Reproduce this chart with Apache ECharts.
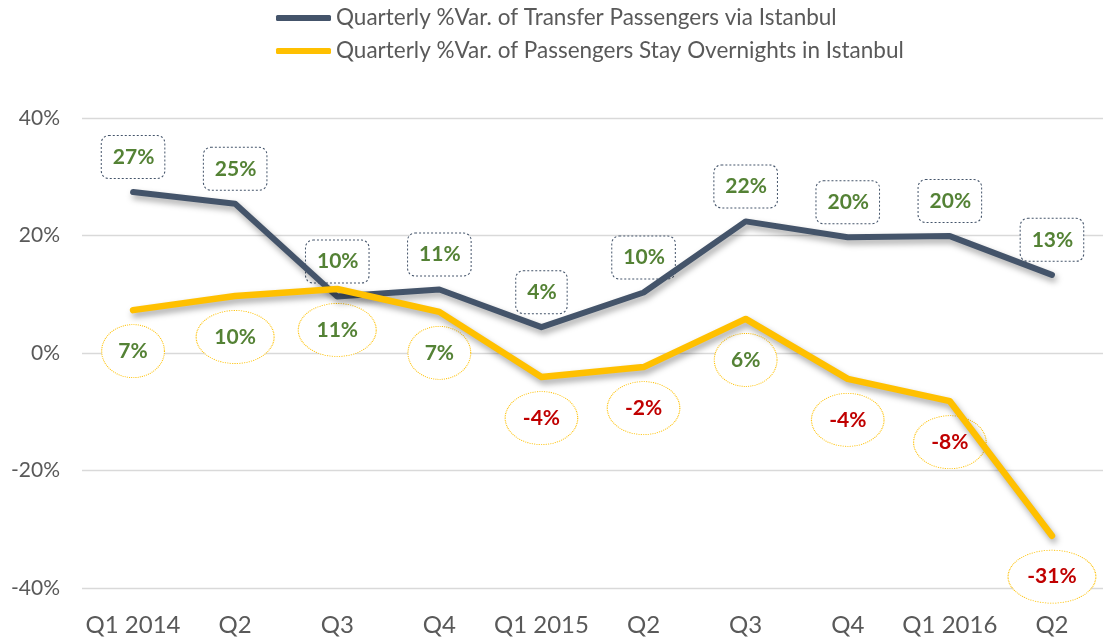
<!DOCTYPE html>
<html><head><meta charset="utf-8">
<script src="https://cdn.jsdelivr.net/npm/echarts@6/dist/echarts.min.js"></script>
<style>html,body{margin:0;padding:0;background:#fff}#c{width:1103px;height:639px}</style>
</head><body><div id="c"></div>
<script>
const categories = ['Q1 2014', 'Q2', 'Q3', 'Q4', 'Q1 2015', 'Q2', 'Q3', 'Q4', 'Q1 2016', 'Q2'];
const transfer = [27.4, 25.4, 9.6, 10.8, 4.4, 10.3, 22.4, 19.7, 19.9, 13.3];
const overnight = [7.3, 9.7, 10.9, 7.0, -4.1, -2.4, 5.8, -4.4, -8.2, -31.1];
const seriesNames = ['Quarterly %Var. of Transfer Passengers via Istanbul', 'Quarterly %Var. of Passengers Stay Overnights in Istanbul'];

const FONT = 'Lato';
const LABEL_SIZE = 21;
const ctx = document.createElement('canvas').getContext('2d');
ctx.font = 'bold ' + LABEL_SIZE + 'px ' + FONT;
const fmt = v => Math.round(v) + '%';
const tw = v => ctx.measureText(fmt(v)).width;
const labelColor = v => Math.round(v) < 0 ? '#c00000' : '#548235';

const chart = echarts.init(document.getElementById('c'), null, {renderer: 'canvas'});
chart.setOption({
  animation: false,
  backgroundColor: '#fff',
  textStyle: {fontFamily: FONT},
  legend: {
    data: seriesNames.map(n => ({name: n, icon: 'roundRect'})),
    orient: 'vertical', left: 271, top: 1, itemWidth: 55, itemHeight: 6, itemGap: 9,
    textStyle: {color: '#595959', fontSize: 22.5, fontFamily: FONT, lineHeight: 24},
    selectedMode: false
  },
  grid: {left: 82, right: -16, top: 118, bottom: 51, containLabel: false},
  xAxis: {
    type: 'category', data: categories, boundaryGap: true,
    axisLine: {show: false, onZero: false}, axisTick: {show: false},
    axisLabel: {color: '#595959', fontSize: 24, fontFamily: FONT, margin: 25, interval: 0}
  },
  yAxis: {
    type: 'value', min: -40, max: 40, interval: 20,
    axisLine: {show: false}, axisTick: {show: false},
    axisLabel: {color: '#595959', fontSize: 21, fontFamily: FONT, margin: 22, formatter: '{value}%'},
    splitLine: {lineStyle: {color: '#d9d9d9', width: 1.3}}
  },
  series: [
    {
      type: 'scatter', name: 'transferLabels', z: 1, silent: true,
      data: transfer.map(v => ({value: v, label: {color: labelColor(v)}})),
      symbol: 'circle', symbolSize: 1,
      itemStyle: {color: 'rgba(0,0,0,0)', opacity: 1},
      label: {
        show: true, position: 'inside', offset: [0, -35],
        fontFamily: FONT, fontSize: LABEL_SIZE, fontWeight: 'bold', lineHeight: 22,
        padding: [10, 10, 10, 11], backgroundColor: '#ffffff',
        borderColor: '#44546a', borderWidth: 1, borderType: 'dotted', borderRadius: 7,
        formatter: p => fmt(p.value)
      },
      emphasis: {disabled: true}
    },
    {
      type: 'scatter', name: 'overnightLabels', z: 1, silent: true,
      data: overnight.map(v => ({value: v, label: {color: labelColor(v)}})),
      symbol: 'circle',
      symbolSize: (v) => [tw(v) * 1.25 + 26, 53],
      symbolOffset: [0, 41],
      itemStyle: {color: '#ffffff', borderColor: '#ffc000', borderWidth: 1, borderType: 'dotted', opacity: 1},
      label: {show: true, position: 'inside', fontFamily: FONT, fontSize: LABEL_SIZE, fontWeight: 'bold',
        formatter: p => fmt(p.value)},
      emphasis: {disabled: true}
    },
    {
      type: 'line', name: seriesNames[0], z: 2, data: transfer, showSymbol: false, symbol: 'none',
      color: '#44546a',
      lineStyle: {color: '#44546a', width: 6, cap: 'round', join: 'round',
        shadowColor: 'rgba(0,0,0,0.35)', shadowBlur: 6, shadowOffsetX: 2, shadowOffsetY: 4},
      emphasis: {disabled: true}
    },
    {
      type: 'line', name: seriesNames[1], z: 3, data: overnight, showSymbol: false, symbol: 'none',
      color: '#ffc000',
      lineStyle: {color: '#ffc000', width: 6.5, cap: 'round', join: 'round',
        shadowColor: 'rgba(0,0,0,0.35)', shadowBlur: 6, shadowOffsetX: 2, shadowOffsetY: 4},
      emphasis: {disabled: true}
    }
  ]
});
</script></body></html>
